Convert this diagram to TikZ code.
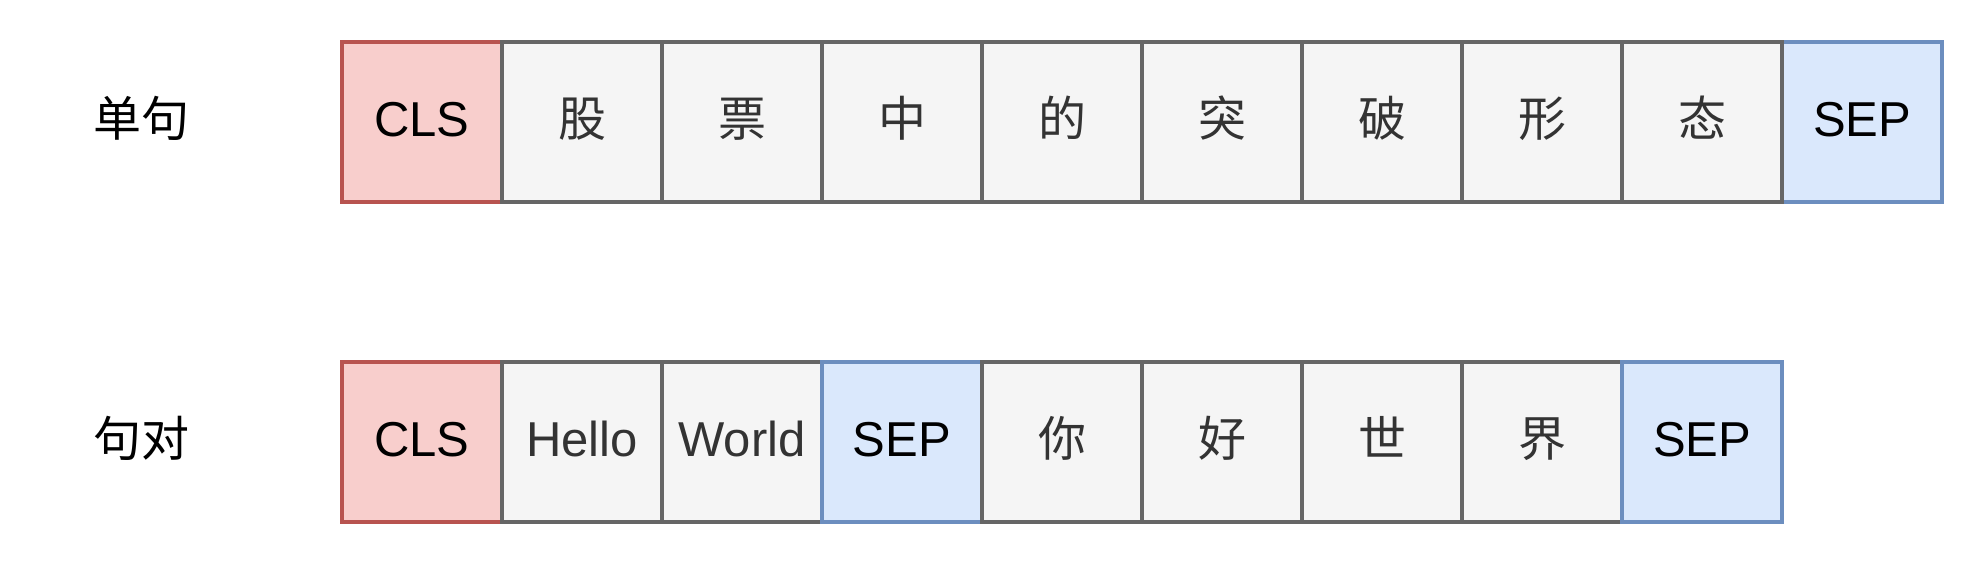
\documentclass[tikz,border=0pt]{standalone}
\usepackage{fontspec}
\setmainfont{Liberation Sans}
\newfontfamily\cjk{Noto Sans CJK SC}
\definecolor{clsfill}{HTML}{F8CECC}
\definecolor{clsdraw}{HTML}{B85450}
\definecolor{sepfill}{HTML}{DAE8FC}
\definecolor{sepdraw}{HTML}{6C8EBF}
\definecolor{gfill}{HTML}{F5F5F5}
\definecolor{gdraw}{HTML}{666666}
\definecolor{gtext}{HTML}{333333}
\begin{document}
\begin{tikzpicture}[x=0.5pt,y=-0.5pt,
  tok/.style={draw, line width=1.8pt, minimum size=80pt, inner sep=0pt, outer sep=0pt,
    text height=18pt, text depth=3.6pt, font=\fontsize{24.5}{29}\selectfont},
  cls/.style={tok, draw=clsdraw, fill=clsfill, text=black},
  sepbox/.style={tok, draw=sepdraw, fill=sepfill, text=black},
  word/.style={tok, draw=gdraw, fill=gfill, text=gtext},
  zh/.style={word, font=\cjk\fontsize{24}{29}\selectfont},
  rowlabel/.style={font=\cjk\fontsize{24}{29}\selectfont, text=black,
    text height=18pt, text depth=3.6pt, inner sep=0pt}]
\useasboundingbox (0,0) rectangle (1984,564);
% row 1
\node[rowlabel] (l1) at (141,122) {单句};
\node[sepbox] (a10) at (1862,122) {SEP};
\node[cls] (a0) at (422,122) {CLS};
\node[zh] (a1) at (582,122) {股};
\node[zh] (a2) at (742,122) {票};
\node[zh] (a3) at (902,122) {中};
\node[zh] (a4) at (1062,122) {的};
\node[zh] (a5) at (1222,122) {突};
\node[zh] (a6) at (1382,122) {破};
\node[zh] (a7) at (1542,122) {形};
\node[zh] (a8) at (1702,122) {态};
% row 2
\node[rowlabel] (l2) at (141,442) {句对};
\node[cls] (b0) at (422,442) {CLS};
\node[word] (b1) at (582,442) {Hello};
\node[word] (b2) at (742,442) {World};
\node[sepbox] (b3) at (902,442) {SEP};
\node[zh] (b4) at (1062,442) {你};
\node[zh] (b5) at (1222,442) {好};
\node[zh] (b6) at (1382,442) {世};
\node[zh] (b7) at (1542,442) {界};
\node[sepbox] (b8) at (1702,442) {SEP};
\end{tikzpicture}
\end{document}
